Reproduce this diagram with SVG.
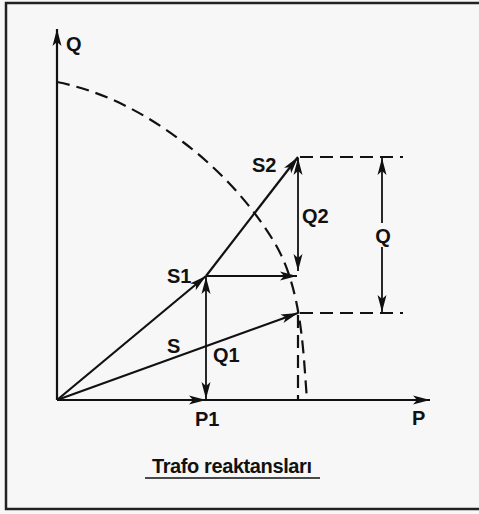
<svg xmlns="http://www.w3.org/2000/svg" width="479" height="514" viewBox="0 0 479 514">
<defs>
<style>
.ln{stroke:#111;fill:none;stroke-width:2.2}
.th{stroke:#111;fill:none;stroke-width:1.8}
.ds{stroke:#111;fill:none;stroke-width:2.2;stroke-dasharray:13 7}
.tx{font-family:"Liberation Sans",Arial,sans-serif;font-size:20px;font-weight:bold;fill:#111}
</style>
<marker id="ah" viewBox="-18 -5 20 10" refX="0" refY="0" markerWidth="20" markerHeight="10" markerUnits="userSpaceOnUse" orient="auto-start-reverse">
<path d="M0,0 L-17,-4.5 L-13,0 L-17,4.5 Z" fill="#111"/>
</marker>
</defs>
<rect x="0" y="0" width="479" height="514" fill="#f7f7f7"/>
<rect x="6" y="3" width="490" height="506" fill="none" stroke="#222" stroke-width="2.5"/>
<g id="axes">
<line class="ln" x1="57" y1="400" x2="57" y2="29" marker-end="url(#ah)"/>
<line class="ln" x1="57" y1="400" x2="430" y2="400" marker-end="url(#ah)"/>
</g>
<g id="circle">
<path class="ds" d="M57,82 C99,90.4 141,110 183,142 C218,168.5 250,202.5 273,240 C302,287 303,350 307,400"/>
</g>
<g id="connectors">
<line class="ln" x1="57" y1="400" x2="298" y2="313" marker-end="url(#ah)"/>
<line class="ln" x1="57" y1="400" x2="206" y2="276" marker-end="url(#ah)"/>
<line class="ln" x1="206" y1="276" x2="298" y2="157" marker-end="url(#ah)"/>
<line class="th" x1="298" y1="158" x2="298" y2="271" marker-start="url(#ah)" marker-end="url(#ah)"/>
<line class="th" x1="206" y1="276" x2="297" y2="276" marker-end="url(#ah)"/>
<line class="th" x1="206" y1="277" x2="206" y2="399" marker-start="url(#ah)" marker-end="url(#ah)"/>
<line class="th" x1="57" y1="400" x2="206" y2="400" marker-end="url(#ah)"/>
<line class="th" x1="382" y1="223" x2="382" y2="158" marker-end="url(#ah)"/>
<line class="th" x1="382" y1="247" x2="382" y2="312" marker-end="url(#ah)"/>
<line class="ds" x1="300" y1="157" x2="403" y2="157"/>
<line class="ds" x1="300" y1="313" x2="403" y2="313"/>
<line class="ds" x1="298" y1="315" x2="298" y2="400"/>
</g>
<g id="labels">
<text class="tx" x="66" y="51">Q</text>
<text class="tx" x="252" y="172">S2</text>
<text class="tx" x="302" y="223">Q2</text>
<text class="tx" x="383" y="243" text-anchor="middle">Q</text>
<text class="tx" x="167" y="283">S1</text>
<text class="tx" x="167" y="353">S</text>
<text class="tx" x="213" y="362">Q1</text>
<text class="tx" x="195" y="426">P1</text>
<text class="tx" x="412" y="425">P</text>
</g>
<g id="caption">
<text class="tx" x="152" y="473" style="letter-spacing:-0.4px">Trafo reaktansları</text>
<line x1="145" y1="478" x2="320" y2="478" stroke="#111" stroke-width="1.5"/>
</g>
</svg>
